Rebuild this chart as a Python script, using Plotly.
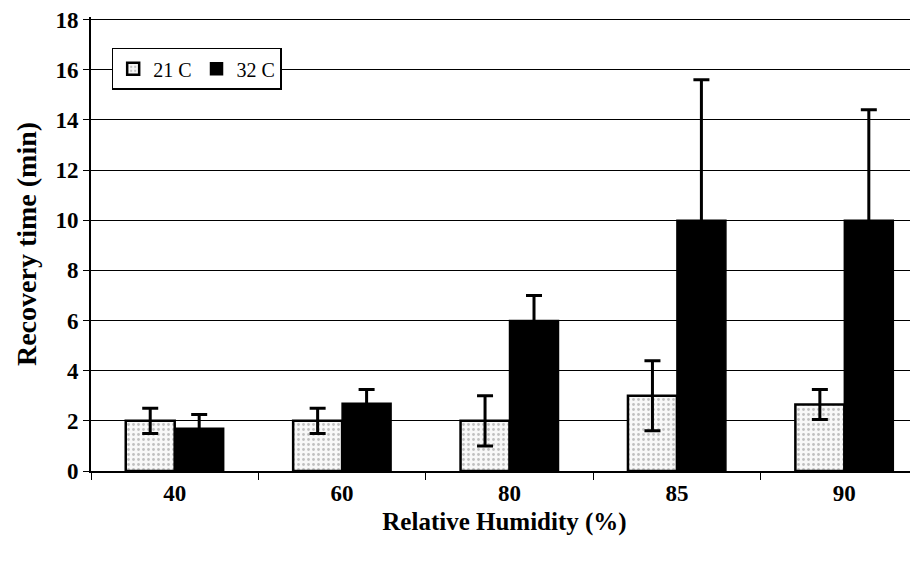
import plotly.graph_objects as go

categories = ["40", "60", "80", "85", "90"]
c21 = [2.0, 2.0, 2.0, 3.0, 2.65]
c21_err = [0.5, 0.5, 1.0, 1.4, 0.6]
c32 = [1.7, 2.7, 6.0, 10.0, 10.0]
c32_err = [0.55, 0.55, 1.0, 5.6, 4.4]
yticks = [0, 2, 4, 6, 8, 10, 12, 14, 16, 18]

font_family = "Liberation Serif, Times New Roman, serif"

fig = go.Figure()
fig.add_trace(go.Bar(
    name="21 C", x=categories, y=c21,
    marker=dict(color="#f4f4f4", line=dict(color="black", width=2.5),
                pattern=dict(shape=".", fgcolor="#888", bgcolor="#f8f8f8", size=5, solidity=0.25)),
    error_y=dict(type="data", array=c21_err, color="black", thickness=3, width=8),
))
fig.add_trace(go.Bar(
    name="32 C", x=categories, y=c32,
    marker=dict(color="black", line=dict(color="black", width=1.5)),
    error_y=dict(type="data", array=c32_err, color="black", thickness=3, width=8),
))

fig.update_layout(
    width=918, height=567,
    margin=dict(l=83, r=8, t=9, b=104, autoexpand=False),
    paper_bgcolor="white", plot_bgcolor="white",
    barmode="group", bargap=0.415, bargroupgap=0,
    font=dict(family=font_family, color="black", size=20),
    showlegend=True,
    legend=dict(orientation="h", x=0.025, y=0.932, xanchor="left", yanchor="top",
                bgcolor="white", bordercolor="black", borderwidth=1.5,
                font=dict(size=20, family=font_family), traceorder="normal"),
    xaxis=dict(
        range=[-0.5, 4.44], showline=True, linecolor="black", linewidth=2,
        ticks="outside", tickson="boundaries", ticklen=7, tickcolor="black",
        tickfont=dict(size=23, family=font_family, weight="bold"),
        title=dict(text="<b>Relative Humidity (%)</b>", font=dict(size=25), standoff=8),
    ),
    yaxis=dict(
        range=[0, 18.1], tickvals=yticks, showline=True, linecolor="black", linewidth=2,
        ticks="outside", ticklen=6, tickcolor="black", ticklabeloverflow="allow",
        showgrid=True, gridcolor="black", gridwidth=1.2,
        tickfont=dict(size=23, family=font_family, weight="bold"),
        title=dict(text="<b>Recovery time (min)</b>", font=dict(size=28), standoff=11),
        zeroline=False,
    ),
)

fig.write_html("out.html")
